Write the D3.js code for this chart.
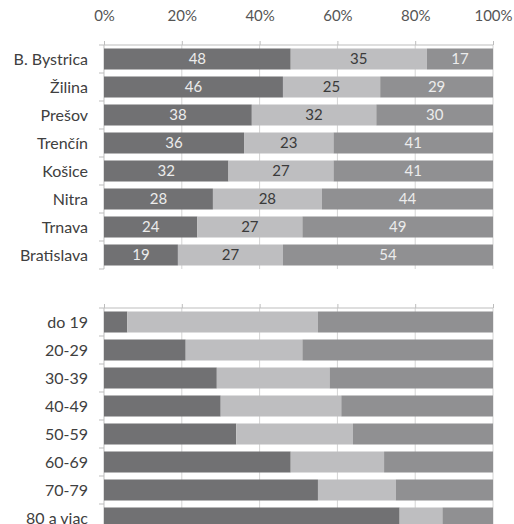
<!DOCTYPE html>
<meta charset="utf-8">
<style>
body { margin: 0; background: #fff; }
text { font-family: Lato, "Open Sans", sans-serif; }
.axis path, .axis line { stroke: #bdbdbd; }
.grid line { stroke: #d4d4d4; }
</style>
<svg width="514" height="524"></svg>
<script src="https://d3js.org/d3.v7.min.js"></script>
<script>

// data
var regions = ["B. Bystrica", "Žilina", "Prešov", "Trenčín", "Košice", "Nitra", "Trnava", "Bratislava"];
var regionDark  = [48, 46, 38, 36, 32, 28, 24, 19];
var regionLight = [35, 25, 32, 23, 27, 28, 27, 27];
var regionMid   = [17, 29, 30, 41, 41, 44, 49, 54];

var ages = ["do 19", "20-29", "30-39", "40-49", "50-59", "60-69", "70-79", "80 a viac"];
var ageDark  = [6, 21, 29, 30, 34, 48, 55, 76];
var ageLight = [49, 30, 29, 31, 30, 24, 20, 11];
var ageMid   = [45, 49, 42, 39, 36, 28, 25, 13];

var tickValues = [0, 0.2, 0.4, 0.6, 0.8, 1];

var colors = ["#717173", "#bebec0", "#909092"];
var labelColors = ["#ececec", "#3a3a3a", "#ececec"];

var svg = d3.select("svg");

var x = d3.scaleLinear().domain([0, 1]).range([104, 493]);

function drawChart(cats, dark, light, mid, y0, y1, showTicks, showValues) {
  var y = d3.scaleBand().domain(cats).range([y0, y1])
      .paddingInner(0.25).paddingOuter(0.125);

  var g = svg.append("g");

  // gridlines
  g.append("g").attr("class", "grid")
    .selectAll("line").data(tickValues.slice(1)).enter().append("line")
      .attr("x1", d => x(d)).attr("x2", d => x(d))
      .attr("y1", y0).attr("y2", y1);

  // top axis
  var ax = g.append("g").attr("class", "axis")
      .attr("transform", "translate(0," + y0 + ")")
      .call(d3.axisTop(x).tickValues(tickValues).tickSize(4)
        .tickFormat(showTicks ? d3.format(".0%") : ""));
  ax.select(".domain").attr("d", "M" + x(0) + ",0H" + x(1));
  ax.selectAll("text").attr("font-size", 15).attr("fill", "#555")
    .attr("y", -29).attr("dy", "0.36em")
    .style("font-family", "Lato, sans-serif");

  // left axis with ticks between categories
  var la = g.append("g").attr("class", "axis");
  la.append("line").attr("x1", x(0)).attr("x2", x(0)).attr("y1", y0).attr("y2", y1);
  la.selectAll(".bt").data(d3.range(cats.length + 1)).enter().append("line")
      .attr("x1", x(0) - 5).attr("x2", x(0))
      .attr("y1", i => y0 + i * y.step()).attr("y2", i => y0 + i * y.step());

  var rows = cats.map(function(c, i) {
    var v = [dark[i], light[i], mid[i]];
    var tot = v[0] + v[1] + v[2], acc = 0;
    return v.map(function(val, k) {
      var s = { cat: c, k: k, val: val, a: acc / tot, b: (acc + val) / tot };
      acc += val;
      return s;
    });
  });
  var segs = rows.flat();

  g.selectAll(".seg").data(segs).enter().append("rect")
      .attr("x", d => x(d.a))
      .attr("width", d => x(d.b) - x(d.a))
      .attr("y", d => y(d.cat))
      .attr("height", y.bandwidth())
      .attr("fill", d => colors[d.k]);

  if (showValues) {
    g.selectAll(".val").data(segs).enter().append("text")
        .attr("x", d => (x(d.a) + x(d.b)) / 2)
        .attr("y", d => y(d.cat) + y.bandwidth() / 2)
        .attr("dy", "0.36em")
        .attr("text-anchor", "middle")
        .attr("font-size", 15)
        .attr("fill", d => labelColors[d.k])
        .text(d => d.val);
  }

  g.selectAll(".cat").data(cats).enter().append("text")
      .attr("x", 88)
      .attr("y", d => y(d) + y.bandwidth() / 2)
      .attr("dy", "0.36em")
      .attr("text-anchor", "end")
      .attr("font-size", 16)
      .attr("fill", "#404040")
      .text(d => d);
}

drawChart(regions, regionDark, regionLight, regionMid, 45, 269, true, true);
drawChart(ages, ageDark, ageLight, ageMid, 308, 532, false, false);

</script>
